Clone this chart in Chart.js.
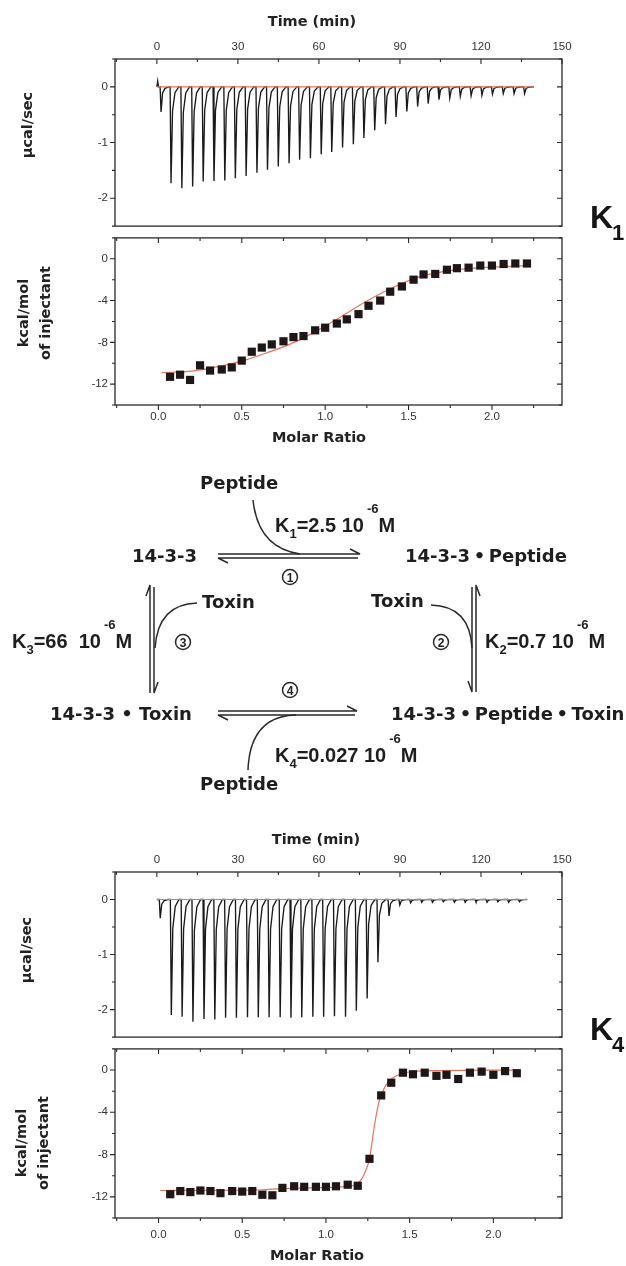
<!DOCTYPE html>
<html lang="en">
<head>
<meta charset="UTF-8" />
<title>ITC titrations: 14-3-3, peptide and toxin</title>
<script src="https://cdn.jsdelivr.net/npm/chart.js"></script>
<style>
  body { margin: 0; background: #fff; }
  .page { position: relative; width: 626px; height: 1266px; overflow: hidden; background: #fff; }
  canvas { position: absolute; left: 0; }
  #overlay { position: absolute; left: 0; top: 0; pointer-events: none; }
  .sp { font-family: "DejaVu Sans", sans-serif; font-weight: bold; font-size: 18px; fill: #1e1e1e; }
  .kt { font-family: "Liberation Sans", Arial, sans-serif; font-weight: bold; font-size: 20px; fill: #1e1e1e; white-space: pre; }
  .kt .sm { font-size: 13px; }
  .ax { font-family: "DejaVu Sans", sans-serif; font-weight: bold; font-size: 14.5px; fill: #222; }
  .big { font-family: "Liberation Sans", Arial, sans-serif; font-weight: bold; font-size: 32px; fill: #151515; }
  .num { font-family: "Liberation Sans", Arial, sans-serif; font-weight: bold; font-size: 12px; fill: #222; }
  .ln { fill: none; stroke: #2a2a2a; stroke-width: 1.5; }
</style>
</head>
<body>
<div class="page">
  <canvas id="k1Raw" width="626" height="240" style="top:0px"></canvas>
  <canvas id="k1Iso" width="626" height="226" style="top:224px"></canvas>
  <canvas id="k4Raw" width="626" height="233" style="top:818px"></canvas>
  <canvas id="k4Iso" width="626" height="231" style="top:1035px"></canvas>

  <svg id="overlay" width="626" height="1266">
    <!-- axis titles -->
    <g class="ax" text-anchor="middle" dominant-baseline="central">
      <text x="312" y="21">Time (min)</text>
      <text x="319" y="437">Molar Ratio</text>
      <text x="316" y="839">Time (min)</text>
      <text x="317" y="1255">Molar Ratio</text>
      <text transform="translate(27,125) rotate(-90)">µcal/sec</text>
      <text transform="translate(23,313) rotate(-90)">kcal/mol</text>
      <text transform="translate(45,313) rotate(-90)">of injectant</text>
      <text transform="translate(26,950) rotate(-90)">µcal/sec</text>
      <text transform="translate(21,1143) rotate(-90)">kcal/mol</text>
      <text transform="translate(43,1143) rotate(-90)">of injectant</text>
    </g>
    <text class="big" x="590" y="228">K<tspan font-size="22" dx="-1" dy="12">1</tspan></text>
    <text class="big" x="590" y="1040">K<tspan font-size="22" dx="-1" dy="12">4</tspan></text>

    <!-- binding scheme -->
    <text class="sp" x="200" y="489">Peptide</text>
    <text class="sp" x="132" y="562">14-3-3</text>
    <text class="sp" x="405" y="562">14-3-3&#8201;•&#8201;Peptide</text>
    <text class="sp" x="202" y="608">Toxin</text>
    <text class="sp" x="371" y="607">Toxin</text>
    <text class="sp" x="50" y="720">14-3-3 • Toxin</text>
    <text class="sp" x="391" y="720">14-3-3&#8201;•&#8201;Peptide&#8201;•&#8201;Toxin</text>
    <text class="sp" x="200" y="790">Peptide</text>

    <text class="kt" x="275" y="532">K<tspan class="sm" dy="6">1</tspan><tspan dy="-6">=2.5 10</tspan><tspan class="sm" dx="3" dy="-19">-6</tspan><tspan dy="19">M</tspan></text>
    <text class="kt" x="12" y="648">K<tspan class="sm" dy="6">3</tspan><tspan dy="-6">=66  10</tspan><tspan class="sm" dx="3" dy="-19">-6</tspan><tspan dy="19">M</tspan></text>
    <text class="kt" x="485" y="648">K<tspan class="sm" dy="6">2</tspan><tspan dy="-6">=0.7 10</tspan><tspan class="sm" dx="3" dy="-19">-6</tspan><tspan dy="19">M</tspan></text>
    <text class="kt" x="275" y="762">K<tspan class="sm" dy="6">4</tspan><tspan dy="-6">=0.027 10</tspan><tspan class="sm" dx="3" dy="-19">-6</tspan><tspan dy="19">M</tspan></text>

    <g class="ln">
      <path d="M218,554 H360 L350,549" />
      <path d="M358,558 H218 L228,563" />
      <path d="M218,711 H357 L347,706" />
      <path d="M355,715 H218 L228,720" />
      <path d="M150,693 V585 L146,596" />
      <path d="M154,587 V693 L158,682" />
      <path d="M476,692 V585 L480,596" />
      <path d="M472,587 V692 L468,681" />
      <path d="M253,500 Q258,548 300,554" />
      <path d="M296,715 Q250,716 248,770" />
      <path d="M197,603 Q158,604 155,648" />
      <path d="M431,605 Q470,606 472,648" />
      <circle cx="290" cy="577" r="7.5" />
      <circle cx="183" cy="642" r="7.5" />
      <circle cx="441" cy="642" r="7.5" />
      <circle cx="290" cy="690" r="7.5" />
    </g>
    <g class="num" text-anchor="middle" dominant-baseline="central">
      <text x="290" y="577.5">1</text>
      <text x="183" y="642.5">3</text>
      <text x="441" y="642.5">2</text>
      <text x="290" y="690.5">4</text>
    </g>
  </svg>
</div>

<script>
  // tick labels
  const timeTicks = [0, 30, 60, 90, 120, 150];
  const powerTicks = [0, -1, -2];
  const ratioTicks = [0, 0.5, 1.0, 1.5, 2.0];
  const heatTicks = [0, -4, -8, -12];

  // K1 raw thermogram: injection times (min) and peak heights (µcal/sec)
  const k1Start = [[0, 0], [0.3, 0.1], [0.6, 0]];
  const k1InjTimes = [1.2, 4.9, 8.9, 12.9, 16.8, 20.8, 24.8, 28.7, 32.7, 36.7, 40.6,
    44.6, 48.6, 52.5, 56.5, 60.5, 64.4, 68.4, 72.4, 76.3, 80.3, 84.3, 88.2, 92.2,
    96.2, 100.1, 104.1, 108.1, 112.0, 116.0, 120.0, 123.9, 127.9, 131.9, 135.8];
  const k1Peaks = [-0.45, -1.73, -1.82, -1.79, -1.70, -1.69, -1.68, -1.64, -1.60,
    -1.54, -1.49, -1.43, -1.37, -1.31, -1.28, -1.21, -1.17, -1.09, -1.03, -0.92,
    -0.78, -0.67, -0.54, -0.44, -0.35, -0.30, -0.23, -0.20, -0.17, -0.16, -0.15,
    -0.13, -0.12, -0.12, -0.12];
  const k1TraceEnd = 139.6;

  // K1 integrated heats
  const k1Ratio = [0.07, 0.13, 0.19, 0.25, 0.31, 0.38, 0.44, 0.50, 0.56, 0.62, 0.68,
    0.75, 0.81, 0.87, 0.94, 1.00, 1.07, 1.13, 1.20, 1.26, 1.33, 1.39, 1.46, 1.53,
    1.59, 1.66, 1.73, 1.79, 1.86, 1.93, 2.00, 2.07, 2.14, 2.21];
  const k1Heat = [-11.3, -11.1, -11.6, -10.2, -10.7, -10.6, -10.4, -9.75, -8.9, -8.5,
    -8.2, -7.9, -7.5, -7.4, -6.85, -6.6, -6.2, -5.8, -5.3, -4.5, -4.0, -3.15, -2.65,
    -2.0, -1.5, -1.45, -1.05, -0.9, -0.85, -0.65, -0.65, -0.5, -0.45, -0.45];
  const k1FitRatio = [0.02, 0.2, 0.35, 0.5, 0.65, 0.8, 0.95, 1.1, 1.25, 1.4, 1.55, 1.7, 1.85, 2.0, 2.21];
  const k1FitHeat = [-10.9, -10.75, -10.35, -9.8, -9.0, -8.1, -6.9, -5.5, -4.05, -2.8, -1.8, -1.25, -0.95, -0.8, -0.65];

  // K4 raw thermogram
  const k4Start = [[0, 0]];
  const k4InjTimes = [0.9, 5.0, 9.0, 13.0, 17.1, 21.1, 25.1, 29.1, 33.2, 37.2, 41.2,
    45.3, 49.3, 53.3, 57.4, 61.4, 65.4, 69.5, 73.5, 77.5, 81.5, 85.6, 89.6, 93.6,
    97.7, 101.7, 105.7, 109.8, 113.8, 117.8, 121.9, 125.9, 129.9, 133.9];
  const k4Peaks = [-0.34, -2.10, -2.13, -2.22, -2.17, -2.18, -2.15, -2.15, -2.14,
    -2.14, -2.14, -2.14, -2.15, -2.14, -2.13, -2.13, -2.12, -2.13, -2.02, -1.80,
    -1.14, -0.30, -0.10, -0.06, -0.05, -0.05, -0.04, -0.05, -0.05, -0.04, -0.05,
    -0.04, -0.05, -0.04];
  const k4TraceEnd = 137.2;

  // K4 integrated heats
  const k4Ratio = [0.07, 0.13, 0.19, 0.25, 0.31, 0.37, 0.44, 0.50, 0.56, 0.62, 0.68,
    0.74, 0.81, 0.87, 0.94, 1.00, 1.06, 1.13, 1.19, 1.26, 1.33, 1.39, 1.46, 1.52,
    1.59, 1.66, 1.72, 1.79, 1.86, 1.93, 2.00, 2.07, 2.14];
  const k4Heat = [-11.75, -11.45, -11.55, -11.4, -11.45, -11.65, -11.45, -11.5, -11.45,
    -11.8, -11.85, -11.15, -11.0, -11.05, -11.05, -11.05, -11.0, -10.85, -10.95, -8.4,
    -2.4, -1.2, -0.25, -0.4, -0.25, -0.55, -0.45, -0.85, -0.25, -0.15, -0.45, -0.1, -0.3];
  const k4FitRatio = [0.01, 0.3, 0.6, 0.7, 0.9, 1.1, 1.17, 1.21, 1.24, 1.26, 1.29, 1.32, 1.36, 1.39, 1.45, 1.52, 1.68, 2.15];
  const k4FitHeat = [-11.4, -11.38, -11.35, -11.25, -11.15, -11.05, -10.9, -10.4, -9.4, -8.4, -5.2, -2.8, -1.4, -0.85, -0.35, -0.15, -0.05, 0.0];

  // shape of one injection peak: [minutes after injection, fraction of peak]
  const SPIKE = [[0, 0], [0.35, 1], [0.9, 0.25], [1.8, 0.06], [3.2, 0]];

  const TICK_FONT = { family: "'Liberation Sans', Arial, sans-serif", size: 11.5 };
  const TICK_COLOR = '#333';
  const FIT_RED = '#e9715a';

  function buildTrace(start, times, peaks, end) {
    const pts = start.map(p => ({ x: p[0], y: p[1] }));
    times.forEach((t, i) => {
      SPIKE.forEach(([dt, f]) => pts.push({ x: t + dt, y: peaks[i] * f }));
    });
    pts.push({ x: end, y: 0 });
    return pts;
  }

  const toXY = (xs, ys) => xs.map((x, i) => ({ x: x, y: ys[i] }));
  const fixedTicks = list => scale => { scale.ticks = list.map(v => ({ value: v })); };

  // box frame plus tick marks on all four sides
  const itcFrame = {
    id: 'itcFrame',
    afterDatasetsDraw(chart, args, o) {
      const { ctx, chartArea: a } = chart;
      const xs = chart.scales.x, ys = chart.scales.y;
      ctx.save();
      ctx.strokeStyle = '#2a2a2a';
      ctx.lineWidth = 1.3;
      ctx.strokeRect(a.left, a.top, a.right - a.left, a.bottom - a.top);
      const each = (scale, step, major, cb) => {
        for (let v = Math.ceil(scale.min / step - 1e-6) * step; v <= scale.max + 1e-6; v += step) {
          const big = major.some(m => Math.abs(m - v) < 1e-6);
          cb(scale.getPixelForValue(v), big ? 5 : 3);
        }
      };
      ctx.lineWidth = 1.1;
      ctx.beginPath();
      each(xs, o.xStep, o.xMajor, (p, len) => {
        ctx.moveTo(p, a.top); ctx.lineTo(p, a.top + len);
        if (o.bottom) { ctx.moveTo(p, a.bottom); ctx.lineTo(p, a.bottom + len); }
      });
      each(ys, o.yStep, o.yMajor, (p, len) => {
        ctx.moveTo(a.left, p); ctx.lineTo(a.left - len, p);
        ctx.moveTo(a.right, p); ctx.lineTo(a.right - len, p);
      });
      ctx.stroke();
      ctx.restore();
    }
  };

  function baseScale(extra) {
    return Object.assign({
      type: 'linear',
      grid: { display: false, drawTicks: false },
      border: { display: false }
    }, extra);
  }

  function rawChart(id, trace, traceEnd, topHeight) {
    return new Chart(document.getElementById(id), {
      type: 'scatter',
      data: {
        datasets: [
          { data: [{ x: 0, y: 0 }, { x: traceEnd, y: 0 }], showLine: true,
            borderColor: FIT_RED, borderWidth: 1.2, pointRadius: 0 },
          { data: trace, showLine: true, borderColor: '#1a1a1a', borderWidth: 1.35, pointRadius: 0 }
        ]
      },
      options: {
        responsive: false,
        animation: false,
        events: [],
        layout: { padding: { left: 0, right: 64, top: 0, bottom: 8 } },
        plugins: {
          legend: { display: false },
          tooltip: { enabled: false },
          itcFrame: { xStep: 15, xMajor: timeTicks, yStep: 0.5, yMajor: powerTicks, bottom: false }
        },
        scales: {
          x: baseScale({
            position: 'top', min: -15.5, max: 150,
            afterBuildTicks: fixedTicks(timeTicks),
            afterFit: s => { s.height = topHeight; },
            ticks: { font: TICK_FONT, color: TICK_COLOR, padding: 5, maxRotation: 0, autoSkip: false }
          }),
          y: baseScale({
            position: 'left', min: -2.5, max: 0.5,
            afterBuildTicks: fixedTicks(powerTicks),
            afterFit: s => { s.width = 115; },
            ticks: { font: TICK_FONT, color: TICK_COLOR, padding: 7 }
          })
        }
      },
      plugins: [itcFrame]
    });
  }

  function isoChart(id, pts, fit, xMax, bottomHeight, labelPad) {
    return new Chart(document.getElementById(id), {
      type: 'scatter',
      data: {
        datasets: [
          { data: pts, pointStyle: 'rect', pointRadius: 5.8, pointBackgroundColor: '#1f1717',
            pointBorderColor: '#1f1717', pointBorderWidth: 0 },
          { data: fit, showLine: true, borderColor: FIT_RED, borderWidth: 1.2, pointRadius: 0,
            cubicInterpolationMode: 'monotone' }
        ]
      },
      options: {
        responsive: false,
        animation: false,
        events: [],
        layout: { padding: { left: 0, right: 64, top: 8, bottom: 0 } },
        plugins: {
          legend: { display: false },
          tooltip: { enabled: false },
          itcFrame: { xStep: 0.25, xMajor: ratioTicks, yStep: 2, yMajor: heatTicks, bottom: true }
        },
        scales: {
          x: baseScale({
            position: 'bottom', min: -0.26, max: xMax,
            afterBuildTicks: fixedTicks(ratioTicks),
            afterFit: s => { s.height = bottomHeight; },
            ticks: { font: TICK_FONT, color: TICK_COLOR, padding: labelPad, maxRotation: 0,
              autoSkip: false, callback: v => v.toFixed(1) }
          }),
          y: baseScale({
            position: 'left', min: -14, max: 2,
            afterBuildTicks: fixedTicks(heatTicks),
            afterFit: s => { s.width = 115; },
            ticks: { font: TICK_FONT, color: TICK_COLOR, padding: 7 }
          })
        }
      },
      plugins: [itcFrame]
    });
  }

  rawChart('k1Raw', buildTrace(k1Start, k1InjTimes, k1Peaks, k1TraceEnd), k1TraceEnd, 59);
  isoChart('k1Iso', toXY(k1Ratio, k1Heat), toXY(k1FitRatio, k1FitHeat), 2.42, 45, 5);
  rawChart('k4Raw', buildTrace(k4Start, k4InjTimes, k4Peaks, k4TraceEnd), k4TraceEnd, 54);
  isoChart('k4Iso', toXY(k4Ratio, k4Heat), toXY(k4FitRatio, k4FitHeat), 2.41, 48, 10);
</script>
</body>
</html>
